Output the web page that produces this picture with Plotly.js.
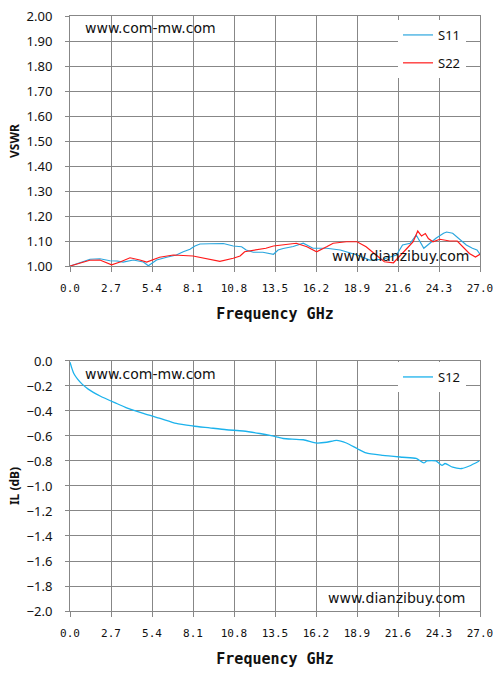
<!DOCTYPE html>
<html>
<head>
<meta charset="utf-8">
<script src="https://cdn.plot.ly/plotly-3.0.1.min.js"></script>
<style>html,body{margin:0;padding:0;background:#fff;}#chart{width:496px;height:681px;}</style>
</head>
<body>
<div id="chart"></div>
<script>
// ---- Data ----
var s11Freq = [0.0,0.66,1.32,1.97,2.63,3.1,3.5,4.17,4.83,5.16,5.7,6.37,7.0,7.46,7.9,8.23,8.56,9.2,10.1,10.75,11.3,11.6,12.07,12.7,13.4,13.7,14.04,14.7,15.36,16.0,16.9,17.8,18.9,19.75,20.6,21.5,21.9,22.4,22.8,23.3,23.7,24.1,24.6,24.8,25.2,25.7,26.1,26.5,26.8,27.0];
var s11Vals = [1.000,1.015,1.027,1.029,1.021,1.020,1.016,1.024,1.016,1.001,1.024,1.035,1.044,1.057,1.067,1.080,1.088,1.089,1.090,1.080,1.077,1.064,1.055,1.055,1.047,1.064,1.070,1.078,1.091,1.071,1.071,1.064,1.044,1.024,1.027,1.044,1.084,1.091,1.124,1.071,1.091,1.111,1.131,1.136,1.131,1.104,1.084,1.071,1.064,1.047];

var s22Freq = [0.0,0.66,1.3,1.97,2.74,3.3,3.95,4.6,5.05,5.9,6.8,8.1,9.0,9.87,10.75,11.2,11.5,12.3,12.9,13.4,14.04,14.9,15.6,16.24,16.9,17.33,18.2,18.9,19.5,20.2,20.7,21.3,21.6,22.2,22.6,22.9,23.15,23.4,23.6,23.9,24.36,25.0,25.5,25.9,26.3,26.7,27.0];
var s22Vals = [1.000,1.013,1.023,1.024,1.005,1.016,1.033,1.024,1.016,1.035,1.044,1.040,1.029,1.019,1.031,1.040,1.057,1.064,1.071,1.080,1.084,1.091,1.077,1.057,1.077,1.091,1.097,1.097,1.077,1.044,1.017,1.013,1.031,1.071,1.097,1.140,1.120,1.130,1.110,1.097,1.107,1.100,1.100,1.077,1.050,1.036,1.047];

var s12Freq = [0.0,0.1,0.25,0.5,0.8,1.2,1.98,3.07,3.73,4.83,5.93,7.0,8.1,9.2,10.3,11.4,12.5,13.17,13.7,14.04,15.36,16.24,16.9,17.56,18.2,18.9,19.5,20.6,21.9,22.8,23.3,23.5,24.1,24.5,24.7,25.2,25.8,26.3,26.95];
var s12Vals = [-0.01,-0.05,-0.10,-0.145,-0.185,-0.225,-0.28,-0.34,-0.375,-0.42,-0.46,-0.50,-0.52,-0.535,-0.55,-0.56,-0.58,-0.595,-0.61,-0.62,-0.63,-0.656,-0.65,-0.635,-0.656,-0.70,-0.736,-0.755,-0.77,-0.78,-0.815,-0.80,-0.80,-0.835,-0.82,-0.85,-0.86,-0.84,-0.80];

var seriesNames = ['S11','S22','S12'];
var xTitle = 'Frequency GHz';
var yTitleTop = 'VSWR';
var yTitleBottom = 'IL (dB)';
var watermarkTop = 'www.com-mw.com';
var watermarkBottom = 'www.dianzibuy.com';

// ---- Styling ----
var gridC = '#878787';
var tickFont = {family: 'Noto Sans, sans-serif', size: 13, color: '#111'};
var xTickFont = {family: 'DejaVu Sans Mono, monospace', size: 11, color: '#111'};
var xTitleFont = {family: 'DejaVu Sans Mono, monospace', size: 15, color: '#111', weight: 'bold'};
var yTitleFont = {family: 'Noto Sans, sans-serif', size: 12, color: '#111', weight: 'bold'};
var wmFont = {family: 'DejaVu Sans, sans-serif', size: 14, color: '#111'};

function xAxis(anchor) {
  return {
    anchor: anchor, range: [0, 27], tick0: 0, dtick: 2.7, tickformat: '.1f',
    showgrid: true, gridcolor: gridC, gridwidth: 1, zeroline: false,
    showline: true, linecolor: gridC, linewidth: 1, mirror: true,
    ticks: 'outside', ticklen: 5, tickcolor: gridC, ticklabelstandoff: 7,
    tickfont: xTickFont,
    title: {text: xTitle, font: xTitleFont, standoff: 14},
    fixedrange: true
  };
}

var traces = [
  {x: s11Freq, y: s11Vals, name: seriesNames[0], type: 'scatter', mode: 'lines',
   line: {color: '#2BA6DE', width: 1.2}, xaxis: 'x', yaxis: 'y', legend: 'legend', legendgroup: 'a'},
  {x: s22Freq, y: s22Vals, name: seriesNames[1], type: 'scatter', mode: 'lines',
   line: {color: '#FF1A1A', width: 1.2}, xaxis: 'x', yaxis: 'y', legend: 'legend', legendgroup: 'b'},
  {x: s12Freq, y: s12Vals, name: seriesNames[2], type: 'scatter', mode: 'lines',
   line: {color: '#1CB2EC', width: 1.3, shape: 'spline', smoothing: 0.6}, xaxis: 'x2', yaxis: 'y2', legend: 'legend2'}
];

var layout = {
  width: 496, height: 681,
  margin: {l: 70, r: 16, t: 16, b: 70},
  paper_bgcolor: '#fff', plot_bgcolor: '#fff',
  showlegend: true,
  xaxis: xAxis('y'),
  xaxis2: xAxis('y2'),
  yaxis: {
    domain: [0.5798, 1], range: [1, 2], dtick: 0.1, tick0: 1, tickformat: '.2f',
    showgrid: true, gridcolor: gridC, zeroline: false,
    showline: true, linecolor: gridC, mirror: true,
    ticks: 'outside', ticklen: 4, tickcolor: gridC, ticklabelstandoff: 10,
    tickfont: tickFont,
    title: {text: yTitleTop, font: yTitleFont, standoff: 4},
    fixedrange: true
  },
  yaxis2: {
    domain: [0, 0.4202], range: [-2, 0], dtick: 0.2, tick0: 0, tickformat: '.1f',
    showgrid: true, gridcolor: gridC, zeroline: false,
    showline: true, linecolor: gridC, mirror: true,
    ticks: 'outside', ticklen: 4, tickcolor: gridC, ticklabelstandoff: 10,
    tickfont: tickFont,
    title: {text: yTitleBottom, font: yTitleFont, standoff: 4},
    fixedrange: true
  },
  legend: {
    x: 0.8, y: 0.9933, xanchor: 'left', yanchor: 'top',
    bgcolor: '#fff', borderwidth: 0, font: {family: 'Noto Sans, sans-serif', size: 13, color: '#111'},
    tracegroupgap: 8, itemwidth: 30
  },
  legend2: {
    x: 0.8, y: 0.4185, xanchor: 'left', yanchor: 'top',
    bgcolor: '#fff', borderwidth: 0, font: {family: 'Noto Sans, sans-serif', size: 13, color: '#111'},
    itemwidth: 30
  },
  annotations: [
    {xref: 'paper', yref: 'paper', x: 0.0317, y: 0.9798, xanchor: 'left', yanchor: 'middle',
     text: watermarkTop, showarrow: false, font: wmFont},
    {xref: 'paper', yref: 'paper', x: 0.634, y: 0.5966, xanchor: 'left', yanchor: 'middle',
     text: watermarkBottom, showarrow: false, font: wmFont},
    {xref: 'paper', yref: 'paper', x: 0.0317, y: 0.398, xanchor: 'left', yanchor: 'middle',
     text: watermarkTop, showarrow: false, font: wmFont},
    {xref: 'paper', yref: 'paper', x: 0.6243, y: 0.0213, xanchor: 'left', yanchor: 'middle',
     text: watermarkBottom, showarrow: false, font: wmFont}
  ]
};

Plotly.newPlot('chart', traces, layout, {displayModeBar: false, staticPlot: true});
</script>
</body>
</html>
